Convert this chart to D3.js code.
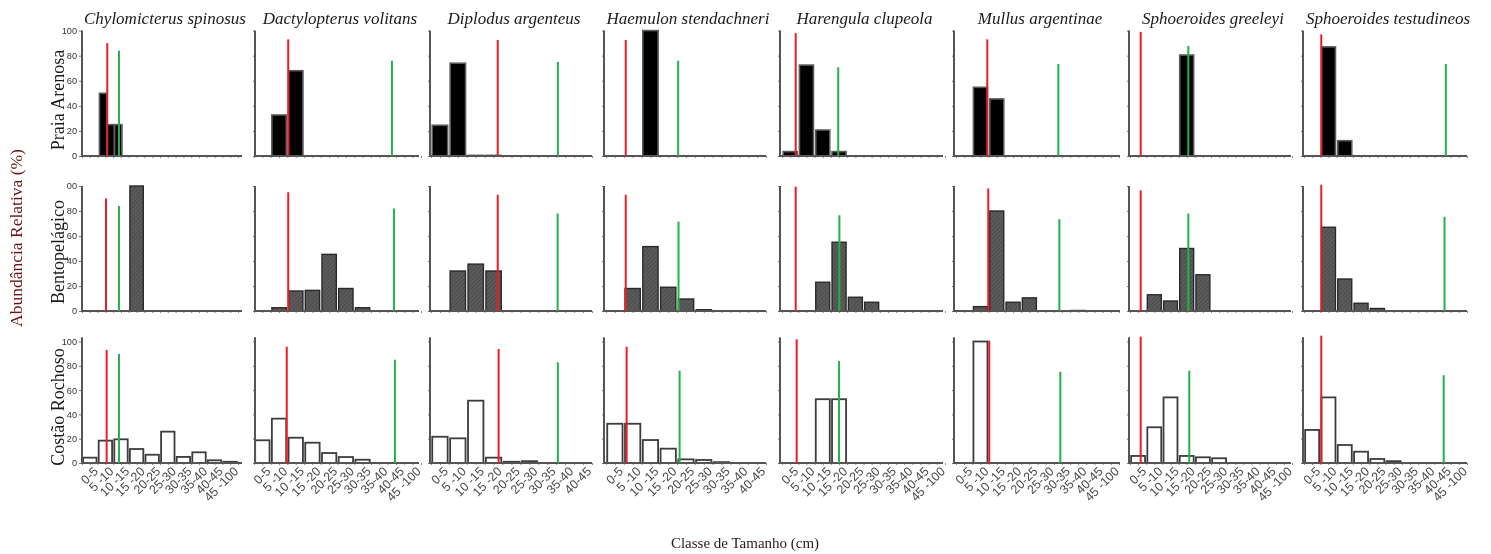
<!DOCTYPE html>
<html>
<head>
<meta charset="utf-8">
<script src="https://cdn.jsdelivr.net/npm/d3@7"></script>
<style>
  body { margin: 0; background: #fff; }
  svg { display: block; }
</style>
</head>
<body>
<svg id="chart" width="1491" height="554"></svg>
<script>
// ---- Data -------------------------------------------------------------
const species = [
  "Chylomicterus spinosus", "Dactylopterus volitans", "Diplodus argenteus",
  "Haemulon stendachneri", "Harengula clupeola", "Mullus argentinae",
  "Sphoeroides greeleyi", "Sphoeroides testudineos"
];
const habitats = ["Praia Arenosa", "Bentopelágico", "Costão Rochoso"];
const sizeClasses = ["0-5", "5 -10", "10 -15", "15 -20", "20-25", "25-30", "30-35", "35-40", "40-45", "45 -100"];
const classCount = [10, 10, 9, 9, 10, 10, 10, 10];
const yTicks = [0, 20, 40, 60, 80, 100];
const yTickLabelsMid = ["0", "20", "40", "60", "80", "00"];

// Relative abundance (%) per size class, one array per species
const praiaArenosa = [
  [0, 0, 50, 25, 25, 0, 0, 0, 0, 0, 0, 0, 0, 0, 0, 0, 0, 0, 0, 0],
  [0, 32.7, 68, 0, 0, 0, 0, 0, 0, 0],
  [24.5, 74, 0.5, 0.5, 0, 0, 0, 0, 0],
  [0, 0, 100, 0, 0, 0, 0, 0, 0],
  [3.5, 72.5, 20.7, 3.5, 0, 0, 0, 0, 0, 0],
  [0, 54.8, 45.5, 0, 0, 0, 0, 0, 0, 0],
  [0, 0, 0, 80.5, 0, 0, 0, 0, 0, 0],
  [0, 87, 12.2, 0, 0, 0, 0, 0, 0, 0]
];
const bentopelagico = [
  [0, 0, 0, 100, 0, 0, 0, 0, 0, 0],
  [0, 2.6, 16, 16.5, 45.3, 18, 2.6, 0, 0, 0],
  [0, 32, 37.5, 32, 0, 0, 0, 0, 0],
  [0, 18, 51.5, 19, 9.6, 1, 0, 0, 0],
  [0, 0, 23, 55, 11, 7, 0, 0, 0, 0],
  [0, 3.5, 80, 7, 10.5, 0, 0, 0.4, 0, 0],
  [0, 13, 8, 50, 29, 0, 0, 0, 0, 0],
  [0, 67, 25.6, 6.2, 2, 0, 0, 0, 0, 0]
];
const costaoRochoso = [
  [4.4, 18.4, 19.5, 11.5, 6.8, 25.8, 5, 8.8, 2.2, 1],
  [18.7, 36.5, 20.8, 16.7, 8.2, 4.9, 2.7, 0, 0, 0],
  [21.6, 20.3, 51.3, 4.4, 1, 1.5, 0, 0, 0],
  [32.3, 32.3, 18.9, 11.8, 3, 2.5, 0.7, 0, 0],
  [0, 0, 52.5, 52.5, 0, 0, 0, 0, 0, 0],
  [0, 100, 0, 0, 0, 0, 0, 0, 0, 0],
  [5.8, 29.4, 54, 5.8, 4.7, 3.9, 0, 0, 0, 0],
  [27.2, 54, 14.8, 9.3, 3.3, 1.5, 0, 0, 0, 0]
];

// Red and green reference lines: position along the size axis (class units) and height (%)
const redPosPraia   = [1.62, 2.05, 3.73, 1.11, 0.84, 1.92, 0.66, 1.06];
const redTopPraia   = [90, 93, 92.5, 92.5, 98, 93, 99, 97];
const greenPosPraia = [2.37, 8.26, 7.09, 4.06, 3.45, 6.28, 3.6, 8.7];
const greenTopPraia = [84, 76, 75, 76, 70.7, 73.4, 87.7, 73.4];

const redPosBento   = [1.54, 2.05, 3.73, 1.11, 0.84, 1.98, 0.66, 1.06];
const redTopBento   = [90, 95, 93, 93, 99.5, 98, 96.5, 101];
const greenPosBento = [2.37, 8.38, 7.08, 4.08, 3.52, 6.34, 3.6, 8.62];
const greenTopBento = [84, 82, 78, 71.5, 76.6, 73.4, 78, 75.4];

const redPosCostao   = [1.58, 1.96, 3.78, 1.16, 0.9, 2.04, 0.66, 1.06];
const redTopCostao   = [93, 95.7, 93.8, 95.7, 101.8, 100.7, 104, 104.8];
const greenPosCostao = [2.37, 8.44, 7.09, 4.14, 3.5, 6.4, 3.66, 8.57];
const greenTopCostao = [89.7, 85, 82.9, 76, 84, 75.1, 76, 72.2];

// ---- Layout -----------------------------------------------------------
const binX0  = [82, 254, 431, 606, 782, 956, 1130, 1304];
const binX1  = [238, 421, 592, 766, 945, 1119, 1292, 1467];
const axisX0 = [82, 255, 430, 604, 780, 954, 1129, 1303];
const axisX1 = [242, 419, 592, 766, 943, 1120, 1291, 1467];
const rowBase = [156, 311, 463];
const rowTop  = [30.6, 186, 341.5];
const rowLabelY = [100, 252, 407];
const axisTopValue = [100, 100, 103.5];

const rows = [
  { values: praiaArenosa,  redPos: redPosPraia,  redTop: redTopPraia,  greenPos: greenPosPraia,  greenTop: greenTopPraia,  style: "solid" },
  { values: bentopelagico, redPos: redPosBento,  redTop: redTopBento,  greenPos: greenPosBento,  greenTop: greenTopBento,  style: "hatch" },
  { values: costaoRochoso, redPos: redPosCostao, redTop: redTopCostao, greenPos: greenPosCostao, greenTop: greenTopCostao, style: "open" }
];

const svg = d3.select("#chart");

// hatch fill for the bentopelagic bars
const defs = svg.append("defs");
const pat = defs.append("pattern")
  .attr("id", "hatch")
  .attr("patternUnits", "userSpaceOnUse")
  .attr("width", 3).attr("height", 3)
  .attr("patternTransform", "rotate(45)");
pat.append("rect").attr("width", 3).attr("height", 3).attr("fill", "#5c5c5c");
pat.append("line").attr("x1", 0).attr("y1", 0).attr("x2", 0).attr("y2", 3)
  .attr("stroke", "#3a3a3a").attr("stroke-width", 1);

const soft = defs.append("filter").attr("id", "soft");
soft.append("feGaussianBlur").attr("stdDeviation", 0.35);

const g = svg.append("g").attr("filter", "url(#soft)");

const barStyle = {
  solid: { fill: "#000", stroke: "#5a5a5a", width: 1.6 },
  hatch: { fill: "url(#hatch)", stroke: "#2a2a2a", width: 1.4 },
  open:  { fill: "#fff", stroke: "#3c3c3c", width: 1.8 }
};

rows.forEach((row, r) => {
  const y = d3.scaleLinear().domain([0, 100]).range([rowBase[r], rowTop[r]]);

  species.forEach((sp, c) => {
    const vals = row.values[c];
    const n = vals.length;
    const panel = g.append("g").attr("class", "panel");

    // finer half-classes use narrower bands
    const x = d3.scaleBand()
      .domain(d3.range(n))
      .range([binX0[c], binX1[c]])
      .paddingInner(n > 10 ? 0.04 : 0.14)
      .paddingOuter(n > 10 ? 0.3 : 0.07);
    const xl = d3.scaleLinear().domain([0, classCount[c]]).range([binX0[c], binX1[c]]);

    // bars
    const st = barStyle[row.style];
    panel.selectAll("rect.bar")
      .data(vals.map((v, i) => ({ i, v })).filter(d => d.v > 0))
      .join("rect")
      .attr("class", "bar")
      .attr("x", d => x(d.i))
      .attr("width", x.bandwidth())
      .attr("y", d => y(d.v))
      .attr("height", d => y(0) - y(d.v))
      .attr("fill", st.fill)
      .attr("stroke", st.stroke)
      .attr("stroke-width", st.width);

    // y axis line with small ticks
    const yAxis = d3.axisLeft(y).tickValues(yTicks).tickSizeOuter(0);
    if (c === 0) {
      yAxis.tickSize(3).tickFormat((d, i) => r === 1 ? yTickLabelsMid[i] : d);
    } else {
      yAxis.tickSize(2).tickFormat("");
    }
    const ya = panel.append("g")
      .attr("transform", `translate(${axisX0[c]},0)`)
      .call(yAxis);
    ya.select(".domain").remove();
    ya.selectAll(".tick line").attr("stroke", "#777").attr("stroke-width", 1);
    ya.selectAll(".tick text")
      .attr("font-family", "Liberation Sans, Arial, sans-serif")
      .attr("font-size", 9.2)
      .attr("fill", "#333")
      .attr("x", -5);
    panel.append("line")
      .attr("x1", axisX0[c]).attr("x2", axisX0[c])
      .attr("y1", y(0) + 1).attr("y2", y(axisTopValue[r]))
      .attr("stroke", "#555").attr("stroke-width", 2);

    // x axis line with minor ticks
    const xTickScale = d3.scaleLinear().domain([0, classCount[c]]).range([binX0[c], binX1[c]]);
    const xa = panel.append("g")
      .attr("transform", `translate(0,${y(0)})`)
      .call(d3.axisBottom(xTickScale)
        .tickValues(d3.range(0, classCount[c] + 0.01, 0.5))
        .tickSize(2).tickSizeOuter(0).tickFormat(""));
    xa.select(".domain").remove();
    xa.selectAll(".tick line").attr("stroke", "#888").attr("stroke-width", 1);
    panel.append("line")
      .attr("x1", axisX0[c] - 1).attr("x2", axisX1[c])
      .attr("y1", y(0)).attr("y2", y(0))
      .attr("stroke", "#555").attr("stroke-width", 2.2);

    // reference lines
    panel.append("line")
      .attr("x1", xl(row.redPos[c])).attr("x2", xl(row.redPos[c]))
      .attr("y1", y(0)).attr("y2", y(row.redTop[c]))
      .attr("stroke", "#ec1c24").attr("stroke-width", 2);
    panel.append("line")
      .attr("x1", xl(row.greenPos[c])).attr("x2", xl(row.greenPos[c]))
      .attr("y1", y(0)).attr("y2", y(row.greenTop[c]))
      .attr("stroke", "#22b14c").attr("stroke-width", 2);

    // size class labels under the bottom row
    if (r === 2) {
      const labels = sizeClasses.slice(0, classCount[c]);
      const xb = d3.scaleBand().domain(labels).range([binX0[c], binX1[c]]);
      panel.selectAll("text.cls")
        .data(labels)
        .join("text")
        .attr("class", "cls")
        .attr("transform", d => `translate(${xb(d) + xb.bandwidth() / 2 + 6},${y(0) + 6}) rotate(-45)`)
        .attr("text-anchor", "end")
        .attr("dy", "0.35em")
        .attr("font-family", "Liberation Sans, Arial, sans-serif")
        .attr("font-size", 12.5)
        .attr("fill", "#4a4a4a")
        .text(d => d);
    }

    // species title
    if (r === 0) {
      g.append("text")
        .attr("x", (axisX0[c] + axisX1[c]) / 2 + 3)
        .attr("y", 24)
        .attr("text-anchor", "middle")
        .attr("font-family", "Liberation Serif, Times New Roman, serif")
        .attr("font-style", "italic")
        .attr("font-size", 17)
        .attr("fill", "#1a1a1a")
        .text(sp);
    }
  });

  // habitat label
  g.append("text")
    .attr("transform", `translate(63.5,${rowLabelY[r]}) rotate(-90)`)
    .attr("text-anchor", "middle")
    .attr("font-family", "Liberation Serif, Times New Roman, serif")
    .attr("font-size", 18)
    .attr("fill", "#1a1a1a")
    .text(habitats[r]);
});

// overall axis titles
g.append("text")
  .attr("transform", "translate(22,238) rotate(-90)")
  .attr("text-anchor", "middle")
  .attr("font-family", "Liberation Serif, Times New Roman, serif")
  .attr("font-size", 17.5)
  .attr("fill", "#6b1414")
  .text("Abundância Relativa (%)");

g.append("text")
  .attr("x", 745)
  .attr("y", 548)
  .attr("text-anchor", "middle")
  .attr("font-family", "Liberation Serif, Times New Roman, serif")
  .attr("font-size", 15)
  .attr("fill", "#2a1a1a")
  .text("Classe de Tamanho (cm)");
</script>
</body>
</html>
